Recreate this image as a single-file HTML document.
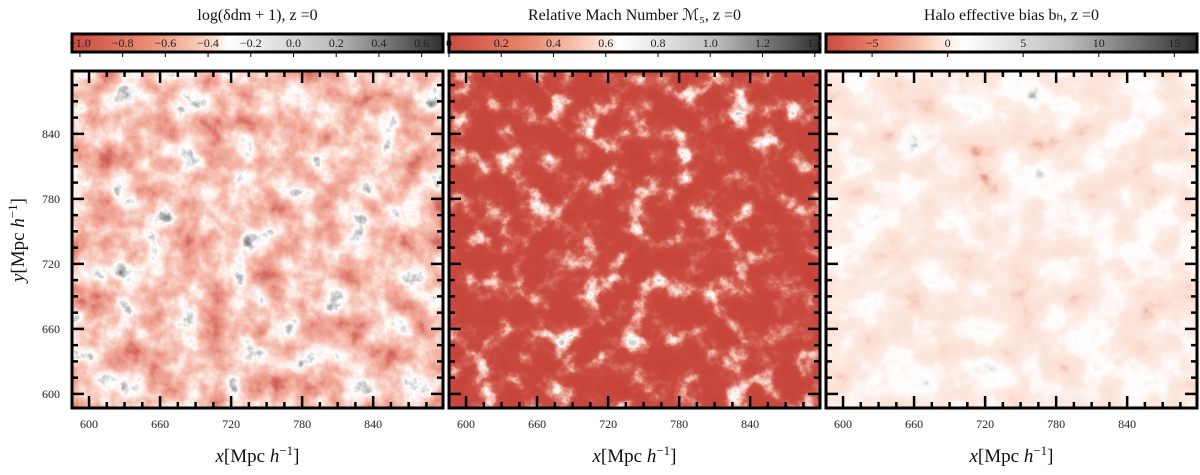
<!DOCTYPE html>
<html><head><meta charset="utf-8">
<style>
body{margin:0;background:#fff;width:1200px;height:470px;overflow:hidden;font-family:"Liberation Serif",serif;}
svg text{font-family:"Liberation Serif",serif;}
filter{color-interpolation-filters:sRGB;}
</style></head>
<body>
<svg id="fig" width="1200" height="470" viewBox="0 0 1200 470">
<defs>
 <filter id="f1" x="0" y="0" width="100%" height="100%" color-interpolation-filters="sRGB">
  <feTurbulence type="fractalNoise" baseFrequency="0.035" numOctaves="5" seed="3"/>
  <feColorMatrix type="matrix" values="1 0 0 0 0  1 0 0 0 0  1 0 0 0 0  0 0 0 0 1"/>
  <feComponentTransfer>
   <feFuncR type="table" tableValues="0.80 0.82 0.86 0.92 0.95 0.97 0.99 1 0.75 0.45 0.3"/>
   <feFuncG type="table" tableValues="0.30 0.36 0.46 0.60 0.68 0.78 0.90 1 0.75 0.45 0.3"/>
   <feFuncB type="table" tableValues="0.26 0.32 0.42 0.54 0.62 0.73 0.87 1 0.75 0.45 0.3"/>
  </feComponentTransfer>
 </filter>
 <filter id="f2" x="0" y="0" width="100%" height="100%" color-interpolation-filters="sRGB">
  <feTurbulence type="fractalNoise" baseFrequency="0.04" numOctaves="5" seed="7"/>
  <feColorMatrix type="matrix" values="1 0 0 0 0  1 0 0 0 0  1 0 0 0 0  0 0 0 0 1"/>
  <feComponentTransfer>
   <feFuncR type="table" tableValues="0.78 0.78 0.78 0.78 0.78 0.79 0.83 0.95 1 0.7 0.3"/>
   <feFuncG type="table" tableValues="0.26 0.26 0.27 0.27 0.28 0.29 0.40 0.72 1 0.7 0.3"/>
   <feFuncB type="table" tableValues="0.22 0.22 0.23 0.23 0.24 0.25 0.35 0.66 1 0.7 0.3"/>
  </feComponentTransfer>
 </filter>
 <filter id="f3" x="0" y="0" width="100%" height="100%" color-interpolation-filters="sRGB">
  <feTurbulence type="fractalNoise" baseFrequency="0.025" numOctaves="5" seed="11"/>
  <feColorMatrix type="matrix" values="1 0 0 0 0  1 0 0 0 0  1 0 0 0 0  0 0 0 0 1"/>
  <feComponentTransfer>
   <feFuncR type="table" tableValues="0.8 0.9 0.97 0.99 0.99 0.99 1 1 0.96 0.6 0.3"/>
   <feFuncG type="table" tableValues="0.35 0.6 0.8 0.88 0.9 0.92 0.97 1 0.96 0.6 0.3"/>
   <feFuncB type="table" tableValues="0.3 0.52 0.74 0.83 0.86 0.89 0.96 1 0.96 0.6 0.3"/>
  </feComponentTransfer>
 </filter>
 <linearGradient id="g1" x1="0" x2="1">
  <stop offset="0" stop-color="#cc4a40"/><stop offset="0.2" stop-color="#ea8a70"/><stop offset="0.39" stop-color="#fde0d2"/>
  <stop offset="0.42" stop-color="#ffffff"/><stop offset="0.7" stop-color="#bdbdbd"/><stop offset="1" stop-color="#303030"/>
 </linearGradient>
 <linearGradient id="g2" x1="0" x2="1">
  <stop offset="0" stop-color="#cc4a40"/><stop offset="0.22" stop-color="#ea8a70"/><stop offset="0.41" stop-color="#fde0d2"/>
  <stop offset="0.46" stop-color="#ffffff"/><stop offset="0.72" stop-color="#bdbdbd"/><stop offset="1" stop-color="#303030"/>
 </linearGradient>
 <linearGradient id="g3" x1="0" x2="1">
  <stop offset="0" stop-color="#cc4a40"/><stop offset="0.15" stop-color="#ea8a70"/><stop offset="0.3" stop-color="#fde0d2"/>
  <stop offset="0.37" stop-color="#ffffff"/><stop offset="0.65" stop-color="#bdbdbd"/><stop offset="1" stop-color="#303030"/>
 </linearGradient>
</defs>
<g id="root"></g>
</svg>
<script>
const panelTitles = ["log(\u03B4dm + 1),  z =0", "Relative Mach Number \u2133\u2085,  z =0", "Halo effective bias b\u2095,  z =0"];
const cb1Ticks = [-1.0,-0.8,-0.6,-0.4,-0.2,0.0,0.2,0.4,0.6];
const cb2Ticks = [0,0.2,0.4,0.6,0.8,1.0,1.2,1.4];
const cb3Ticks = [-5,0,5,10,15];
const cbRanges = [[-1.037,0.70],[0,1.42],[-8.05,16.5]];
const xTicks = [600,660,720,780,840];
const yTicks = [600,660,720,780,840];
const xRange = [585.6,899];
const yRange = [587,898];

const NS="http://www.w3.org/2000/svg";
const root=document.getElementById('root');
function mk(tag,attrs,parent){const e=document.createElementNS(NS,tag);for(const k in attrs)e.setAttribute(k,attrs[k]);(parent||root).appendChild(e);return e;}
const px=[72,449,826], PW=371, PY=71, PH=337, CBY=34, CBH=18;
const cbTicks=[cb1Ticks,cb2Ticks,cb3Ticks];
const fmt=[v=>(v<0?"\u2212":"")+Math.abs(v).toFixed(1), v=>v===0?"0":v.toFixed(1), v=>(v<0?"\u2212":"")+Math.abs(v)];

for(let p=0;p<3;p++){
  const x0=px[p];
  const g=mk('g',{});
  
  
  const t=mk('text',{x:x0+PW/2,y:20,'text-anchor':'middle','font-size':16,fill:'#111'},g);
  t.textContent=panelTitles[p];
  
  
  const cb=mk('rect',{x:x0,y:CBY,width:PW,height:CBH,fill:'url(#g'+(p+1)+')',stroke:'#000','stroke-width':3},g);
  
  
  const [a,b]=cbRanges[p];
  cbTicks[p].forEach(v=>{
    const xx=x0+(v-a)/(b-a)*PW;
    mk('line',{x1:xx,x2:xx,y1:CBY+CBH+1,y2:CBY+CBH+5,stroke:'#000','stroke-width':1},g);
    const tl=mk('text',{x:xx,y:CBY+13,'text-anchor':'middle','font-size':12,fill:'#222'},g);
    tl.textContent=fmt[p](v);
    
    
  });
  const hm=mk('rect',{x:x0,y:PY,width:PW,height:PH,filter:'url(#f'+(p+1)+')'},g);
  
  
  mk('rect',{x:x0,y:PY,width:PW,height:PH,fill:'none',stroke:'#000','stroke-width':3},g);
  const sx=v=>x0+(v-xRange[0])/(xRange[1]-xRange[0])*PW;
  const sy=v=>PY+PH-(v-yRange[0])/(yRange[1]-yRange[0])*PH;
  for(let v=600;v<=xRange[1];v+=15){
    const L=(v%60===0)?12:6, xx=sx(v);
    mk('line',{x1:xx,x2:xx,y1:PY,y2:PY+L,stroke:'#000','stroke-width':2.5},g);
    mk('line',{x1:xx,x2:xx,y1:PY+PH,y2:PY+PH-L,stroke:'#000','stroke-width':2.5},g);
  }
  for(let v=600;v<=yRange[1];v+=15){
    const L=(v%60===0)?12:6, yy=sy(v);
    mk('line',{x1:x0,x2:x0+L,y1:yy,y2:yy,stroke:'#000','stroke-width':2.5},g);
    mk('line',{x1:x0+PW,x2:x0+PW-L,y1:yy,y2:yy,stroke:'#000','stroke-width':2.5},g);
  }
  xTicks.forEach(v=>{
    const tl=mk('text',{x:sx(v),y:428,'text-anchor':'middle','font-size':12,fill:'#222'},g);
    tl.textContent=v;
    
    
  });
  if(p===0){
    yTicks.forEach(v=>{
      const tl=mk('text',{x:60,y:sy(v)+4,'text-anchor':'end','font-size':12,fill:'#222'},g);
      tl.textContent=v;
      
      
    });
  }
  const xt=mk('text',{x:x0+PW/2,y:462,'text-anchor':'middle','font-size':19,fill:'#111'},g);
  xt.innerHTML='<tspan font-style="italic">x</tspan>[Mpc <tspan font-style="italic">h</tspan><tspan dy="-7" font-size="13">\u22121</tspan><tspan dy="7">]</tspan>';
  
  
}
const yt=mk('text',{x:0,y:0,'text-anchor':'middle','font-size':19,fill:'#111',transform:'translate(24,240) rotate(-90)'});
yt.innerHTML='<tspan font-style="italic">y</tspan>[Mpc <tspan font-style="italic">h</tspan><tspan dy="-7" font-size="13">\u22121</tspan><tspan dy="7">]</tspan>';


</script>
</body></html>
